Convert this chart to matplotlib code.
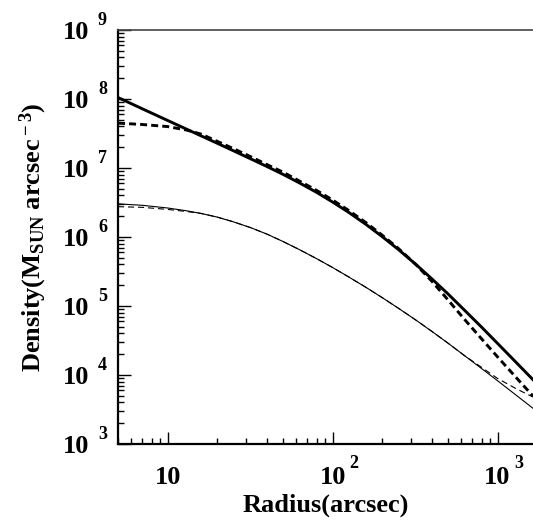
import matplotlib
matplotlib.use("Agg")
import matplotlib.pyplot as plt
import numpy as np

matplotlib.rcParams['font.family'] = ['Liberation Serif', 'DejaVu Serif']
matplotlib.rcParams['font.weight'] = 'bold'
matplotlib.rcParams['mathtext.fontset'] = 'custom'
matplotlib.rcParams['mathtext.rm'] = 'Liberation Serif:bold'
matplotlib.rcParams['mathtext.it'] = 'Liberation Serif:bold'
matplotlib.rcParams['mathtext.bf'] = 'Liberation Serif:bold'

# radius (arcsec) and density profiles
radius = [5, 7, 10, 13, 16, 20, 25, 32, 40, 50, 63, 80, 100, 125, 160, 200,
          250, 320, 400, 500, 630, 800, 1000, 1300, 1640]
rho_total = [1.05e8, 7.23e7, 4.88e7, 3.66e7, 2.91e7, 2.28e7, 1.78e7, 1.35e7,
             1.05e7, 8.09e6, 6.07e6, 4.43e6, 3.21e6, 2.28e6, 1.51e6, 1.01e6,
             6.61e5, 4.00e5, 2.47e5, 1.50e5, 8.71e4, 4.94e4, 2.87e4, 1.51e4, 8.55e3]
rho_total_model = [4.47e7, 4.27e7, 3.98e7, 3.55e7, 3.09e7, 2.43e7, 1.91e7, 1.45e7,
                   1.12e7, 8.71e6, 6.46e6, 4.73e6, 3.43e6, 2.43e6, 1.60e6, 1.06e6,
                   6.84e5, 3.98e5, 2.28e5, 1.23e5, 6.41e4, 3.34e4, 1.83e4, 9.12e3, 4.95e3]
rho_stars = [3.02e6, 2.88e6, 2.63e6, 2.40e6, 2.19e6, 1.94e6, 1.66e6, 1.36e6,
             1.10e6, 8.61e5, 6.55e5, 4.85e5, 3.61e5, 2.64e5, 1.85e5, 1.32e5,
             9.31e4, 6.24e4, 4.28e4, 2.90e4, 1.91e4, 1.24e4, 8.26e3, 5.07e3, 3.29e3]
rho_stars_model = [2.75e6, 2.69e6, 2.51e6, 2.34e6, 2.19e6, 1.94e6, 1.66e6, 1.36e6,
                   1.10e6, 8.61e5, 6.55e5, 4.85e5, 3.61e5, 2.64e5, 1.85e5, 1.32e5,
                   9.31e4, 6.24e4, 4.28e4, 2.90e4, 1.91e4, 1.29e4, 8.91e3, 6.31e3, 4.79e3]

x_decades = [1, 2, 3]
y_decades = [3, 4, 5, 6, 7, 8, 9]

fig = plt.figure(figsize=(5.33, 5.25), dpi=100)
ax = fig.add_axes([0.2214, 0.1543, 0.7786, 0.7886])

ax.plot(radius, rho_total, color='black', lw=2.1)
ax.plot(radius, rho_total_model, color='black', lw=2.1, linestyle=(0, (2.4, 1.4)))
ax.plot(radius, rho_stars, color='black', lw=0.8)
ax.plot(radius, rho_stars_model, color='black', lw=0.8, linestyle=(0, (5.5, 3.5)))

ax.set_xscale('log')
ax.set_yscale('log')
ax.set_xlim(5, 1640)
ax.set_ylim(1e3, 1e9)

ax.spines['right'].set_visible(False)
ax.spines['left'].set_linewidth(1.6)
ax.spines['bottom'].set_linewidth(1.6)
ax.spines['top'].set_linewidth(1.2)
ax.spines['top'].set_color('#444444')

ax.tick_params(which='both', direction='in', top=False, right=False,
               labelbottom=False, labelleft=False)
ax.tick_params(which='major', length=9, width=1.0)
ax.tick_params(which='minor', length=4.5, width=1.0)
ax.xaxis.set_major_locator(matplotlib.ticker.LogLocator(base=10))
ax.xaxis.set_minor_locator(matplotlib.ticker.LogLocator(base=10, subs=np.arange(2, 10)))
ax.yaxis.set_major_locator(matplotlib.ticker.LogLocator(base=10, numticks=10))
ax.yaxis.set_minor_locator(matplotlib.ticker.LogLocator(base=10, subs=np.arange(2, 10), numticks=10))

# tick labels: "10" with a separate, raised exponent
for d in x_decades:
    ax.annotate('10', xy=(10 ** d, 0), xycoords=('data', 'axes fraction'),
                xytext=(0, -16), textcoords='offset points',
                ha='center', va='top', fontsize=19, fontweight='bold')
    if d > 1:
        ax.annotate(str(d), xy=(10 ** d, 0), xycoords=('data', 'axes fraction'),
                    xytext=(12, -8), textcoords='offset points',
                    ha='left', va='top', fontsize=13, fontweight='bold')

for d in y_decades:
    ax.annotate('10', xy=(0, 10 ** d), xycoords=('axes fraction', 'data'),
                xytext=(-21, -2), textcoords='offset points',
                ha='right', va='center', fontsize=19, fontweight='bold')
    ax.annotate(str(d), xy=(0, 10 ** d), xycoords=('axes fraction', 'data'),
                xytext=(-8, 7), textcoords='offset points',
                ha='right', va='center', fontsize=13, fontweight='bold')

ax.set_xlabel('Radius(arcsec)', fontsize=19, fontweight='bold', labelpad=36)
ax.set_ylabel(r'Density(M$_{\rm SUN}$ arcsec$^{\rm -3}$)', fontsize=19,
              fontweight='bold', labelpad=50)

plt.savefig('out.png', dpi=100)
plt.close()
